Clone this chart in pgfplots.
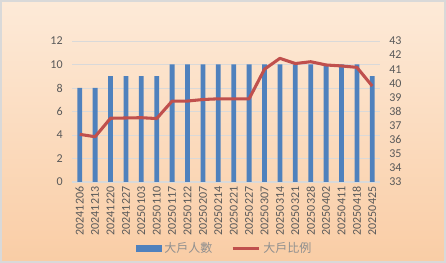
\documentclass[border=0pt]{standalone}
\usepackage{fontspec}
\setmainfont{Carlito}
\newfontfamily\cjk{Noto Sans CJK TC}
\usepackage{pgfplots}
\pgfplotsset{compat=1.18}

\definecolor{barblue}{HTML}{4F81BD}
\definecolor{linered}{HTML}{C0504D}
\definecolor{txtgray}{HTML}{595959}
\definecolor{leggray}{HTML}{8F8F8F}
\definecolor{gridgray}{HTML}{D9D9D9}
\definecolor{peachtop}{HTML}{FFF9F2}
\definecolor{peachmid}{HTML}{F9CBA2}
\definecolor{peachbot}{HTML}{FDDDC6}
\pgfdeclareverticalshading{peach}{100bp}{color(0bp)=(peachbot); color(22bp)=(peachmid); color(100bp)=(peachtop)}

\begin{document}
\begin{tikzpicture}
\useasboundingbox (0,0) rectangle (334.5pt,197.25pt);
\shade[shading=peach] (0,0) rectangle (334.5pt,197.25pt);
\draw[gridgray, line width=1.2pt] (0.6pt,0.6pt) rectangle (333.9pt,196.65pt);

% bars: number of large holders
\begin{axis}[
    at={(54pt,60.75pt)}, anchor=south west,
    scale only axis, width=231pt, height=105.75pt,
    xmin=-0.5, xmax=19.5,
    ymin=0, ymax=12, ytick={0,2,...,12},
    xtick={0,...,19},
    xticklabels={20241206,20241213,20241220,20241227,20250103,20250110,20250117,20250122,20250207,20250214,20250221,20250227,20250307,20250314,20250321,20250328,20250402,20250411,20250418,20250425},
    xticklabel style={rotate=90, anchor=east, font=\fontsize{9}{10}\selectfont, text=txtgray},
    yticklabel style={font=\fontsize{9}{10}\selectfont, text=txtgray, xshift=-3.5pt},
    /pgf/number format/assume math mode=true,
    axis x line*=bottom, axis y line*=left,
    x axis line style={gridgray, line width=0.8pt, -},
    y axis line style={draw=none},
    ymajorgrids, grid style={gridgray, line width=0.6pt},
    major tick length=0pt,
    ytick style={draw=none}, xtick style={draw=none},
    clip=false,
]
\addplot[ybar, bar width=3.6pt, fill=barblue, draw=none] coordinates {
    (0,8) (1,8) (2,9) (3,9) (4,9) (5,9) (6,10) (7,10) (8,10) (9,10)
    (10,10) (11,10) (12,10) (13,10) (14,10) (15,10) (16,10) (17,10) (18,10) (19,9)
};
\end{axis}

% line: holding ratio
\begin{axis}[
    at={(54pt,60.75pt)}, anchor=south west,
    scale only axis, width=231pt, height=105.75pt,
    xmin=-0.5, xmax=19.5,
    ymin=33, ymax=43, ytick={33,...,43},
    axis x line=none, axis y line*=right,
    y axis line style={draw=none},
    ytick style={draw=none},
    yticklabel style={font=\fontsize{9}{10}\selectfont, text=txtgray, xshift=3.5pt},
    /pgf/number format/assume math mode=true,
    legend columns=2,
    legend style={at={(0.497,-0.473)}, anchor=center, draw=none, fill=none,
        font=\cjk\fontsize{9}{10}\selectfont, text=leggray,
        /tikz/every even column/.append style={column sep=12pt}},
    clip=false,
]
\addlegendimage{legend image code/.code={\fill[barblue] (0pt,-2.2pt) rectangle (18.75pt,2.2pt);}}
\addlegendentry{大戶人數}
\addplot[linered, line width=2.3pt, line join=round,
    legend image code/.code={\draw[linered, line width=2.3pt] (0pt,0pt) -- (20pt,0pt);}]
coordinates {
    (0,36.38) (1,36.21) (2,37.52) (3,37.54) (4,37.56) (5,37.50) (6,38.74) (7,38.74)
    (8,38.85) (9,38.90) (10,38.90) (11,38.90) (12,41.00) (13,41.77) (14,41.40)
    (15,41.53) (16,41.30) (17,41.23) (18,41.13) (19,39.80)
};
\addlegendentry{大戶比例}
\end{axis}
\end{tikzpicture}
\end{document}
